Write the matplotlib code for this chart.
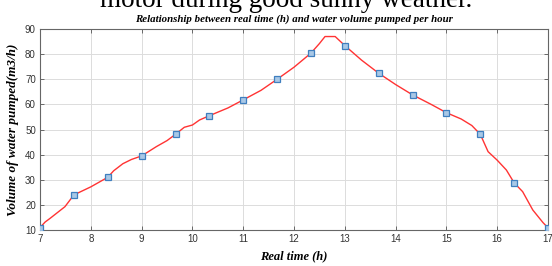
import matplotlib.pyplot as plt

# marker points (every 40 minutes)
t_mark = [7, 7.667, 8.333, 9, 9.667, 10.333, 11, 11.667, 12.333, 13,
          13.667, 14.333, 15, 15.667, 16.333, 17]
q_mark = [11, 24, 31, 39.5, 48.1, 55.5, 61.8, 70, 80.4, 83.4,
          72.4, 63.8, 56.7, 48.1, 28.8, 10.9]

# red curve
t_line = [7, 7.1, 7.2, 7.49, 7.667, 8.0, 8.333, 8.45, 8.63, 8.8, 9, 9.29,
          9.5, 9.667, 9.84, 10.0, 10.14, 10.333, 10.7, 11, 11.35, 11.667,
          12.0, 12.333, 12.5, 12.61, 12.81, 13, 13.33, 13.667, 14.0, 14.333,
          14.7, 15, 15.29, 15.5, 15.667, 15.82, 16.0, 16.18, 16.333, 16.5,
          16.7, 16.9, 17]
q_line = [11, 13.2, 14.7, 19.3, 24, 27.2, 31, 33.6, 36.4, 38.1, 39.5, 43.2,
          45.6, 48.1, 50.9, 51.8, 53.8, 55.5, 58.6, 61.8, 65.6, 70,
          74.8, 80.4, 84.2, 87, 87, 83.4, 77.6, 72.4, 67.9, 63.8,
          60.0, 56.7, 54.2, 51.6, 48.1, 41.2, 37.8, 33.9, 28.8, 25.3,
          18, 13, 10.9]

xticks = list(range(7, 18))
yticks = list(range(10, 91, 10))

tickfont = ['Liberation Sans Narrow', 'Liberation Sans', 'DejaVu Sans']
serif = ['Liberation Serif', 'DejaVu Serif']

fig = plt.figure(figsize=(5.52, 2.66), dpi=100)
ax = fig.add_axes([0.0725, 0.135, 0.9203, 0.756])

ax.plot(t_line, q_line, color='#ff3333', lw=1.0, zorder=3)
ax.plot(t_mark, q_mark, ls='none', marker='s', ms=4.2, mfc='#a9c8e6',
        mec='#3f7fbf', mew=0.9, zorder=4)

ax.set_xlim(7, 17)
ax.set_ylim(10, 90)
ax.set_xticks(xticks)
ax.set_yticks(yticks)
ax.grid(True, color='#dcdcdc', lw=0.7)
ax.set_axisbelow(True)
ax.tick_params(direction='in', length=3, width=0.6, colors='#555555',
               labelcolor='#333333', labelsize=7, top=True, right=True, pad=3)
for lab in ax.get_xticklabels() + ax.get_yticklabels():
    lab.set_family(tickfont)
for s in ax.spines.values():
    s.set_color('#666666')
    s.set_linewidth(0.8)

ax.set_title('Relationship between real time (h) and water volume pumped per hour',
             family=serif, fontsize=7.8, fontweight='bold', style='italic', pad=5)
ax.set_xlabel('Real time (h)', family=serif, fontsize=9, fontweight='bold',
              style='italic', labelpad=4)
ax.set_ylabel('Volume of water pumped(m3/h)', family=serif, fontsize=9.5,
              fontweight='bold', style='italic', labelpad=4)

# cut-off caption text from the page above the chart
fig.text(0.519, 0.972, 'motor during good sunny weather.', family=serif,
         fontsize=19.5, ha='center', va='baseline', color='black')

fig.savefig('out.png', dpi=100)
